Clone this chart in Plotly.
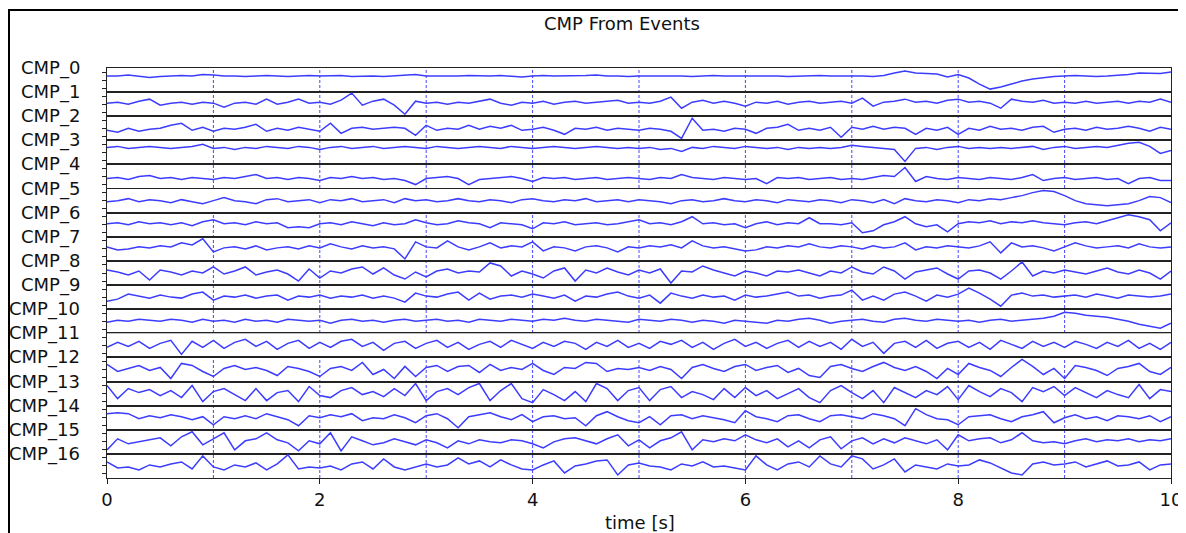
import plotly.graph_objects as go
from plotly.subplots import make_subplots

# ---------------- data (in row-relative units) ----------------
TIME_S = [round(0.1 * i, 1) for i in range(101)]
CHANNELS = ["CMP_%d" % i for i in range(17)]
X_TICKS = [0, 2, 4, 6, 8, 10]
GRID_TIMES = [1, 2, 3, 4, 5, 6, 7, 8, 9]
TITLE = "CMP From Events"
X_LABEL = "time [s]"

CMP_0 = [4, 4, 5, 4, 2.5, 3.5, 4, 4.5, 4, 5.5,
         5, 4, 4, 3.5, 4, 4.5, 4, 3.5, 4, 4.5,
         4, 4, 4.5, 3.5, 4, 4, 3.5, 4, 5, 5.5,
         4, 4, 3.5, 4, 4.5, 4, 4, 4.5, 4, 3,
         4, 4.5, 4, 4, 4, 4.5, 5, 4, 4, 3.5,
         4, 4, 4.5, 4, 4, 3.5, 4, 4.5, 4, 4,
         4, 4.5, 4, 4, 3.5, 4, 4, 4.5, 4, 4,
         4.5, 4, 3.5, 4.5, 7, 9, 7, 6.5, 6, 3,
         5.5, 2, -4, -9, -7, -4, -1, 1, 2.5, 3.5,
         4, 4.5, 4, 3.5, 4, 4.5, 5.5, 7, 7, 6.5, 8]
CMP_1 = [1, 2, 0, 3, 5, -1, 1, 2, 0, 2,
         1, -3, 1, 2, 0, 5, 0, 2, 5, 1,
         2, 0, 4, 11, -1, 3, 5, -1, -10, 3,
         1, 2, 0, 2, 1, 3, 5, 1, -1, 2,
         1, 3, 0, 2, 3, 1, 2, 3, 4, 1,
         2, 1, 3, 7, -4, 2, 4, 1, 3, 1,
         -2, 2, 1, 3, 0, 2, 3, 1, 2, 3,
         1, 6, -2, 2, 3, 5, 2, 3, 1, 4,
         5, 2, 3, 1, -4, 5, 3, 2, 4, 1,
         2, 1, 3, 1, 2, 3, 1, 3, 2, 5, 2]
CMP_2 = [-2, -4, 0, -3, -1, 0, 3, 5, -2, 1,
         -3, 0, -1, 1, 4, -3, 0, -2, 1, -1,
         -3, 5, -5, 0, 1, -1, 0, 1, 0, -7,
         3, -2, 0, -1, 3, -1, 2, 0, 3, -2,
         -1, 1, -2, -6, 0, -1, 1, -2, 0, -1,
         -2, 0, -1, -3, -10, 10, -2, -1, -3, 0,
         -1, -5, 0, 1, 4, -2, 0, -2, 1, -9,
         1, -1, 2, -1, 1, 0, -6, 0, -2, 1,
         -6, 0, -2, 2, -1, 0, -2, 1, 2, -4,
         -1, 0, -2, 1, -1, 0, 2, 0, -3, 1, -1]
CMP_3 = [5, 6, 4, 5, 6, 5, 4, 5, 6, 8,
         4, 5, 3, 5, 4, 6, 5, 4, 6, 5,
         3, 5, 6, 4, 5, 6, 4, 5, 6, 5,
         4, 6, 5, 4, 5, 6, 5, 4, 6, 5,
         4, 5, 6, 5, 4, 5, 6, 5, 4, 5,
         4, 5, 3, 4, 1, 5, 4, 6, 5, 4,
         6, 5, 4, 5, 3, 5, 4, 5, 4, 5,
         7, 6, 5, 4, 3, -9, 4, 5, 3, 5,
         6, 4, 5, 4, 5, 4, 5, 6, 3, 5,
         6, 4, 5, 6, 5, 7, 9, 10, 6, -1, 2]
CMP_4 = [-2, -1, -3, 0, 1, -2, -1, -3, -1, -2,
         -3, -1, -2, 0, 2, -2, -1, -3, -1, -2,
         -4, -1, -2, 0, -2, -1, -3, -2, -4, -8,
         -2, -1, 0, -2, -8, -3, -2, -1, 0, -2,
         -5, -1, -2, -1, -3, -2, -1, -3, -2, -1,
         -2, -3, -1, -2, 2, -1, -2, -3, -1, -2,
         -3, -2, -7, -1, -2, -1, -3, -2, -1, -3,
         -2, -3, -1, 1, 0, 9, -5, 0, -2, -3,
         -1, -2, -3, -1, -2, -3, -1, 2, -4, -2,
         -1, -3, -2, -1, -3, -2, -7, -2, -1, -4, -4]
CMP_5 = [-1, 0, 2, -1, 1, 0, -2, 1, -1, -3,
         0, 3, 0, -1, -3, 1, 2, -1, 0, 1,
         -2, 1, 0, 2, -1, 0, 1, -2, 2, 0,
         1, -1, 0, 2, 0, -1, 1, 0, -2, 1,
         2, 0, -1, 1, 0, 2, -1, 0, 1, -1,
         1, 0, -1, -3, 0, 1, -1, 0, 2, 0,
         -1, 1, 0, -2, 1, 0, -1, 1, 0, -2,
         1, 0, -2, 1, -3, 2, 0, -1, 1, 0,
         -2, 1, 0, 2, 1, 3, 5, 8, 10, 9,
         5, 0, -3, -4, -5, -4, -3, 0, 4, 3, -2]
CMP_6 = [1, 2, 0, 3, 1, 2, 0, 2, -1, 3,
         5, 1, 2, 0, 3, 1, 2, -3, -2, -3,
         1, 2, 0, 3, 1, -1, 2, 0, 1, 5,
         2, 0, 1, 4, 2, 1, -3, 2, 1, 0,
         -4, 2, 1, 3, 0, 1, 2, 0, 1, 3,
         5, 1, 2, 0, 3, 8, 1, 2, 0, 1,
         -3, 1, 3, 0, 2, 1, 7, 1, 1, 0,
         2, -8, -6, 0, 3, 8, 1, -2, 0, -7,
         1, 3, 2, 4, 1, 3, 2, 4, 2, 1,
         0, 2, 3, 1, 4, 7, 10, 8, 5, -6, 2]
CMP_7 = [2, -1, 0, 2, 1, 3, 2, 6, 4, 10,
         -3, 1, 2, 0, 3, -1, 1, 2, 0, 3,
         1, 5, 2, 0, 3, 1, 2, 0, -10, 7,
         2, 1, 8, 2, -1, 2, 6, 1, 3, 2,
         7, -2, 2, 1, -2, 2, 3, 1, -3, 2,
         1, 3, 2, 4, 1, 8, 3, 1, 2, 0,
         -2, -1, 2, 1, 3, 2, 5, 2, 1, 3,
         2, 0, 3, 1, 2, 6, -1, 2, 1, 3,
         2, 1, 3, 7, -4, 6, 2, 3, 1, -2,
         2, 6, 3, 1, 2, 3, 1, 5, 2, 1, 2]
CMP_8 = [3, 1, -2, 2, -7, 3, 1, -2, 2, 0,
         6, -1, 2, 6, -2, 1, 3, -1, -8, 4,
         -5, 2, 0, 4, 6, -1, 5, -2, -6, 1,
         -4, 2, 4, 0, 2, 1, 10, 7, -3, 2,
         -1, -5, 2, 5, -8, 3, 0, 5, 1, -2,
         3, 0, 4, -10, 2, 1, 7, 3, 0, -3,
         2, 0, -3, 2, 1, 3, 0, -3, 2, 0,
         6, 1, -1, 6, 2, -6, 1, 3, 5, -1,
         -6, 2, 3, 0, -6, 2, 11, -3, 2, 0,
         3, 1, -1, 2, 5, 1, -1, 3, 0, -6, 2]
CMP_9 = [-4, -2, 3, 1, -1, 2, 0, -1, 3, 5,
         -3, 1, 0, 2, -1, 1, 2, -3, 1, 0,
         2, -1, 1, 0, 2, -1, 1, -1, -5, 4,
         1, 0, 3, 5, -3, 4, -2, 1, 2, 0,
         3, 1, -1, 2, -4, 1, 0, 3, 5, 1,
         -1, 2, -6, 4, 1, -1, 2, 0, 1, -3,
         2, 0, 1, 3, 5, 1, 2, -1, 1, 2,
         7, -3, 1, -3, 3, 5, 1, -4, 2, 0,
         3, 9, 4, -2, -9, 2, 4, 1, 2, 0,
         1, 2, 0, 3, 1, -1, 2, 1, 0, 1, 3]
CMP_10 = [-1, 1, 0, 2, 1, 0, 2, 1, -1, 2,
          0, 1, -1, 2, 0, 1, -1, 2, 1, 0,
          1, -2, 1, 2, 0, 1, -1, 1, 2, 0,
          1, 2, 0, 1, -1, 2, 1, 0, 2, 1,
          0, 2, 1, 3, 1, 0, 2, 1, 0, -1,
          2, 1, 0, 2, 1, -1, 1, 0, -2, 1,
          0, -1, -2, 1, 0, 2, 3, 1, -2, 0,
          1, 2, 0, -1, 2, 3, 1, 0, 2, 1,
          0, 1, -1, 1, 2, 0, 1, 2, 3, 5,
          9, 8, 6, 5, 4, 2, 0, -3, -5, -7, -2]
CMP_11 = [-2, 3, -1, 4, -3, 2, 5, -9, 4, -2,
          5, -3, 3, 6, -1, 4, -4, 2, 5, -3,
          3, -2, 4, 6, -1, 3, -5, 2, 4, -3,
          2, 5, -2, 3, -4, 1, 4, -2, 5, 1,
          -3, 3, -1, 4, 2, -4, 3, -1, 5, -2,
          2, -3, 4, 1, 5, -2, 3, -4, 2, 6,
          -1, 3, -3, 2, 5, -2, 4, -1, 3, -4,
          6, -1, 3, -8, 2, 4, -2, 5, -3, 2,
          4, -2, 3, -4, 5, 1, -3, 4, -1, 3,
          -2, 4, 1, -3, 3, -1, 5, -3, 2, -4, 3]
CMP_12 = [5, -2, 1, 4, -1, 2, -9, 6, 4, -2,
          -7, 1, 4, 0, 2, -1, -6, 3, 1, -2,
          -7, 1, 3, -1, 7, -5, 0, -9, 3, -7,
          2, 4, -2, 3, 4, -3, 5, -1, 2, 0,
          6, -1, -5, 2, 1, 7, 6, -2, 1, 0,
          2, -1, 3, 0, -9, 2, 5, 1, -2, 3,
          5, -1, 2, 4, -3, 1, -6, -8, 3, 5,
          1, -2, 3, 7, 2, -1, 3, -2, -9, 1,
          -5, 6, 2, -1, -7, 2, 10, 3, -5, 1,
          -9, 4, 2, -1, -6, 1, 3, 6, -2, -5, 2]
CMP_13 = [8, -5, 5, 1, 4, -2, 3, -4, 8, -8,
          2, 5, -1, -7, 5, -7, 1, 3, -8, 7,
          -2, -4, 3, 6, -1, 2, -3, 5, -2, 10,
          -7, 2, 5, -1, 6, 10, -7, 3, 10, -5,
          -9, 4, -1, -7, 2, -8, 10, 5, -7, 3,
          6, -7, 4, 7, -4, 2, -1, -6, 5, -4,
          6, -2, 3, -5, 0, 5, -4, -9, 3, 8,
          1, -5, 3, -9, 6, 1, -4, 3, -1, 7,
          -6, 8, 2, -3, 5, 1, -8, 6, 2, 7,
          -2, 6, 1, -4, 3, -1, -4, 9, -5, 4, 2]
CMP_14 = [4, 5, 4, -1, 2, 0, 3, 1, -2, 1,
          -7, 1, -1, 2, -1, 4, 1, -2, -8, 2,
          0, 3, 1, 4, -3, 0, -1, 3, 0, -5,
          2, 4, -1, -10, 1, 3, 5, 1, -2, 3,
          -4, 1, 2, -1, 0, -8, 2, 6, 1, -3,
          -5, 1, -7, 2, 3, -1, 2, 0, -2, -5,
          7, 1, -1, -4, 2, 3, -1, -4, 2, 3,
          1, -1, 4, 2, -1, -8, 9, 3, -1, -2,
          -7, 1, 2, 3, -1, -4, 1, 3, 6, -5,
          0, 3, -1, 1, -3, 2, 1, -1, 2, -4, 1]
CMP_15 = [-8, 3, -2, 0, 2, 4, -4, 5, 10, -3,
          3, 9, -8, 1, 3, 9, 2, -1, -9, 1,
          -2, 9, -9, 5, 1, -3, -1, 3, 0, -3,
          2, -1, -6, 1, -2, 2, 0, -1, 2, 1,
          -2, -6, 0, 3, 4, 1, -2, 3, 7, -4,
          2, -6, 1, 4, 10, -8, 2, 0, 3, 1,
          7, 2, -1, 3, -5, 1, -6, 2, 5, -7,
          1, 4, -2, 3, -1, 4, 1, -2, 2, -8,
          7, 1, 3, 4, -1, 2, 9, 1, -1, 0,
          -2, 1, 3, 0, 2, 1, 3, 0, 2, 1, 3]
CMP_16 = [4, -2, -1, -4, 1, -1, 2, 4, -3, 10,
          -1, -4, 1, -1, 3, -4, 2, 11, -3, -1,
          -2, 0, -4, 2, 4, -3, 7, -1, -4, -1,
          2, -1, 1, 8, 2, 5, -1, 6, 1, -3,
          -4, 1, 5, -7, 0, 2, 5, 6, -9, 1,
          3, 0, -1, -4, 2, 0, 4, -1, 0, -2,
          -4, 10, 1, -4, 2, 4, -1, 10, 2, -1,
          10, 7, -3, 1, 7, -6, 1, -1, -3, 2,
          0, 1, 6, 3, -2, -7, -9, 2, 4, 1,
          2, 4, -1, 2, 5, 0, 1, 4, -4, 1, 2]

SIGNALS = [CMP_0, CMP_1, CMP_2, CMP_3, CMP_4, CMP_5, CMP_6, CMP_7, CMP_8,
           CMP_9, CMP_10, CMP_11, CMP_12, CMP_13, CMP_14, CMP_15, CMP_16]

# ---------------- layout geometry (page has an 8px body margin) ----------------
OFF = 8
W, H = 1186, 525
ML, MR, MT, MB = 99, 23, 60, 55
PW = W - ML - MR
PH = H - MT - MB
FONT = "DejaVu Sans, Liberation Sans, sans-serif"
LINE_BLUE = "#3c3cff"
GRID_BLUE = "rgba(50,50,255,0.9)"
N = len(CHANNELS)


def px_x(x_ref):
    return (x_ref - OFF - ML) / PW


def px_y(y_ref):
    return (H - MB - (y_ref - OFF)) / PH


fig = make_subplots(rows=N, cols=1, shared_xaxes=True, vertical_spacing=0)

for i, (name, sig) in enumerate(zip(CHANNELS, SIGNALS)):
    r = i + 1
    fig.add_trace(
        go.Scatter(x=TIME_S, y=sig, mode="lines", name=name, showlegend=False,
                   line=dict(color=LINE_BLUE, width=1.5), hoverinfo="skip"),
        row=r, col=1)
    fig.update_yaxes(range=[-12, 12], tickvals=[-8, 0, 8], showticklabels=False,
                     ticks="outside", ticklen=4, tickcolor="#222", tickwidth=1,
                     showline=True, mirror=True, linecolor="#222", linewidth=1.4,
                     showgrid=False, zeroline=False, fixedrange=True, row=r, col=1)
    bottom = (r == N)
    fig.update_xaxes(range=[0, 10], tickvals=X_TICKS, showgrid=False,
                     showline=True, mirror=True, linecolor="#222", linewidth=1.4,
                     zeroline=False, showticklabels=bottom, ticklabeloverflow="allow",
                     ticks="outside" if bottom else "", ticklen=5, tickcolor="#222",
                     tickfont=dict(family=FONT, size=18, color="#111"),
                     row=r, col=1)
    yref = "y domain" if r == 1 else "y%d domain" % r
    fig.add_annotation(text=name, xref="paper", yref=yref,
                       x=px_x(82), y=1.0, xanchor="right", yanchor="middle",
                       showarrow=False, font=dict(family=FONT, size=18, color="#111"))

# dashed vertical guides at each whole second, across all rows
for t in GRID_TIMES:
    fig.add_shape(type="line", xref="x", yref="paper", x0=t, x1=t, y0=0, y1=1,
                  line=dict(color=GRID_BLUE, width=1, dash="3px,2px"), layer="below")

fig.add_annotation(text=TITLE, xref="paper", yref="paper",
                   x=px_x(622), y=px_y(24), xanchor="center", yanchor="middle",
                   showarrow=False, font=dict(family=FONT, size=18, color="#111"))
fig.add_annotation(text=X_LABEL, xref="paper", yref="paper",
                   x=px_x(640), y=px_y(522), xanchor="center", yanchor="middle",
                   showarrow=False, font=dict(family=FONT, size=18, color="#111"))

# outer frame of the figure (left and top edges visible)
fig.add_shape(type="rect", xref="paper", yref="paper",
              x0=px_x(9), x1=px_x(1240), y0=px_y(560), y1=px_y(10),
              line=dict(color="black", width=2), fillcolor="rgba(0,0,0,0)", layer="above")

fig.update_layout(width=W, height=H, margin=dict(l=ML, r=MR, t=MT, b=MB),
                  paper_bgcolor="white", plot_bgcolor="white",
                  font=dict(family=FONT, size=18, color="#111"), showlegend=False)

fig.write_html("out.html", config={"displayModeBar": False})
